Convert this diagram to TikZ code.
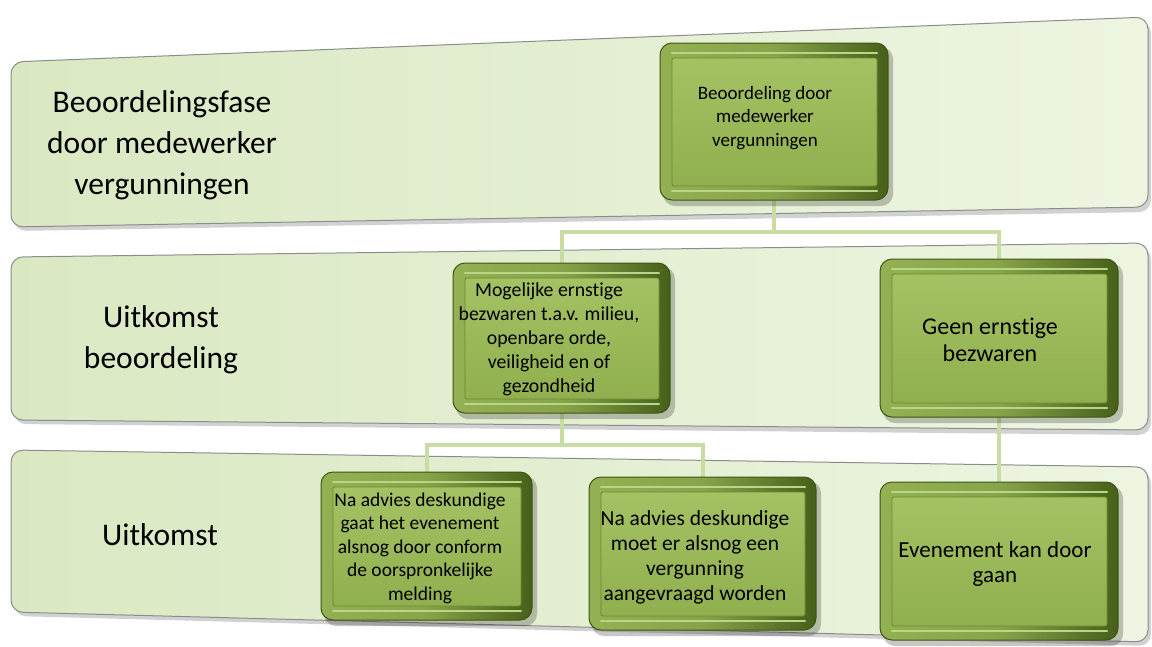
\documentclass[tikz,border=0pt]{standalone}
\usepackage{fontspec}
\setmainfont{Carlito}[Ligatures=NoCommon]
\usetikzlibrary{calc}
\definecolor{bandL}{HTML}{DAE8C2}
\definecolor{bandR}{HTML}{EDF5E1}
\definecolor{bandLine}{HTML}{8C8C8C}
\definecolor{rimL}{HTML}{93B052}
\definecolor{rimR}{HTML}{46601A}
\definecolor{rimLine}{HTML}{3F5514}
\definecolor{faceT}{HTML}{A4C263}
\definecolor{faceB}{HTML}{90AF4E}
\definecolor{faceLine}{HTML}{6E8A30}
\definecolor{hl}{HTML}{BCD486}
\definecolor{conn}{HTML}{C9DCA3}
\newcommand\bevelbox[4]{%
 \fill[black,opacity=0.22,rounded corners=12pt] (#1+3,#2+4) rectangle (#3+5,#4+6);
 \shade[rounded corners=12pt, left color=rimL, right color=rimR, middle color=rimL!85!rimR] (#1,#2) rectangle (#3,#4);
 \draw[rimLine, line width=1pt, rounded corners=12pt] (#1,#2) rectangle (#3,#4);
 \shade[top color=faceT, bottom color=faceB, rounded corners=2pt] (#1+12,#2+15) rectangle (#3-11,#4-14);
 \draw[faceLine, line width=0.8pt, rounded corners=2pt] (#1+12,#2+15) rectangle (#3-11,#4-14);
 \draw[hl, line width=2.2pt, line cap=round] (#1+12,#2+10) -- (#3-11,#2+10);
 \draw[hl, line width=2.2pt, line cap=round] (#1+12,#4-9) -- (#3-11,#4-9);
}
\tikzset{
 bandtext/.style={align=center, font=\fontsize{31.5}{41}\selectfont, text=black},
 boxtext/.style={align=center, font=\fontsize{19}{23.5}\selectfont, text=black, inner sep=0pt},
 boxnode/.style={inner sep=0pt, draw=none},
 connector/.style={conn, line width=4pt},
 bandshape/.style={left color=bandL, right color=bandR, rounded corners=12pt},
 bandedge/.style={bandLine, line width=1pt, rounded corners=12pt},
 bandshadow/.style={black, opacity=0.18, rounded corners=12pt},
}
\begin{document}
\begin{tikzpicture}[x=1pt,y=-1pt]
\useasboundingbox[fill=white] (0,0) rectangle (1152,646);
% bands
\fill[bandshadow] (14,66) -- (1151,21) -- (1151,212) -- (14,231) -- cycle;
\shade[bandshape] (11,62) -- (1148,17) -- (1148,207) -- (11,227) -- cycle;
\draw[bandedge] (11,62) -- (1148,17) -- (1148,207) -- (11,227) -- cycle;
\fill[bandshadow] (14,261) -- (1151,247) -- (1151,435) -- (14,424) -- cycle;
\shade[bandshape] (11,257) -- (1148,243) -- (1148,430) -- (11,420) -- cycle;
\draw[bandedge] (11,257) -- (1148,243) -- (1148,430) -- (11,420) -- cycle;
\fill[bandshadow] (14,454) -- (1151,471) -- (1151,646) -- (14,616) -- cycle;
\shade[bandshape] (11,450) -- (1148,467) -- (1148,642) -- (11,612) -- cycle;
\draw[bandedge] (11,450) -- (1148,467) -- (1148,642) -- (11,612) -- cycle;
% band labels
\node[bandtext] (L1) at (162,145) {Beoordelingsfase\\door medewerker\\vergunningen};
\node[bandtext] (L2) at (161,340) {Uitkomst\\beoordeling};
\node[bandtext] (L3) at (160,535) {Uitkomst};
% box nodes (geometry)
\node[boxnode, minimum width=228pt, minimum height=157pt] (A) at (774,121.5) {};
\node[boxnode, minimum width=217pt, minimum height=150pt] (B) at (561.5,338) {};
\node[boxnode, minimum width=238pt, minimum height=158pt] (C) at (999,338) {};
\node[boxnode, minimum width=211pt, minimum height=148pt] (D) at (426.5,546) {};
\node[boxnode, minimum width=227pt, minimum height=153pt] (E) at (702.5,553.5) {};
\node[boxnode, minimum width=238pt, minimum height=158pt] (F) at (999,561) {};
% connectors
\coordinate (j1) at (774,232);
\coordinate (j2) at (561.5,445);
\draw[connector] (A.south) -- (j1);
\draw[connector] (j1) -| (B.north);
\draw[connector] (j1) -| (C.north);
\draw[connector] (B.south) -- (j2);
\draw[connector] (j2) -| (D.north);
\draw[connector] (j2) -| (E.north);
\draw[connector] (C.south) -- (F.north);
% boxes
\bevelbox{660}{43}{888}{200}
\bevelbox{453}{263}{670}{413}
\bevelbox{880}{259}{1118}{417}
\bevelbox{321}{472}{532}{620}
\bevelbox{589}{477}{816}{630}
\bevelbox{880}{482}{1118}{640}
% box texts
\node[boxtext] (tA) at (765,118) {Beoordeling door\\medewerker\\vergunningen};
\node[boxtext, font=\fontsize{19.8}{24}\selectfont] (tB) at (549,339) {Mogelijke ernstige\\bezwaren t.a.v. milieu,\\openbare orde,\\veiligheid en of\\gezondheid};
\node[boxtext, font=\fontsize{24}{26.5}\selectfont] (tC) at (990,340) {Geen ernstige\\bezwaren};
\node[boxtext, font=\fontsize{19.5}{23.5}\selectfont] (tD) at (420,548) {Na advies deskundige\\gaat het evenement\\alsnog door conform\\de oorspronkelijke\\melding};
\node[boxtext, font=\fontsize{21.5}{25}\selectfont] (tE) at (695,557) {Na advies deskundige\\moet er alsnog een\\vergunning\\aangevraagd worden};
\node[boxtext, font=\fontsize{23}{25.5}\selectfont] (tF) at (995,564) {Evenement kan door\\gaan};
\end{tikzpicture}
\end{document}
